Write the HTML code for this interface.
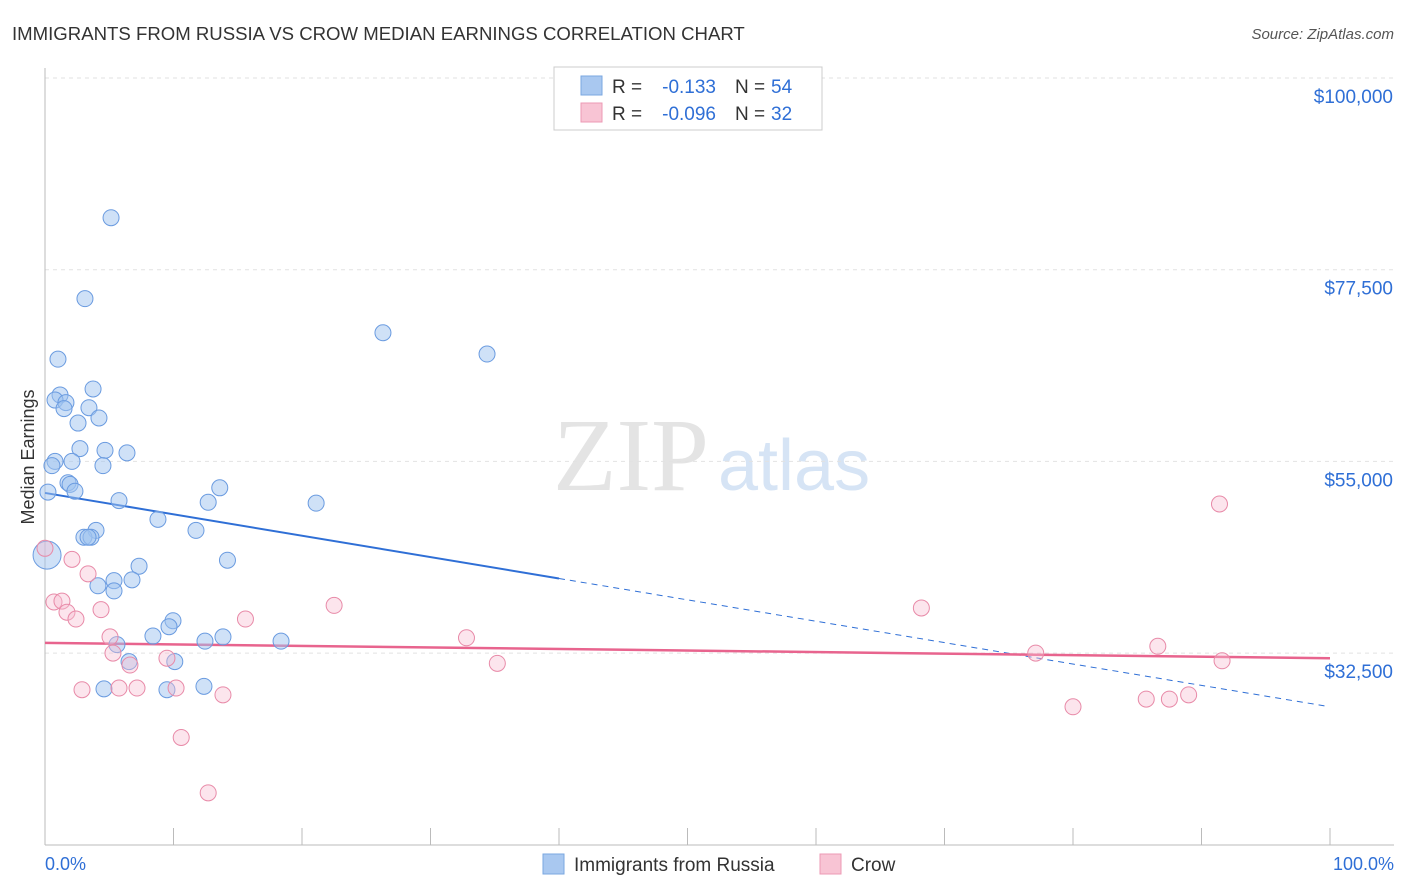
<!DOCTYPE html>
<html><head><meta charset="utf-8"><style>
body{margin:0;background:#fff;font-family:"Liberation Sans",sans-serif;}
svg{display:block}
</style></head><body>
<svg id="chart" width="1406" height="892">
<text x="12" y="40" font-size="18.6" fill="#333">IMMIGRANTS FROM RUSSIA VS CROW MEDIAN EARNINGS CORRELATION CHART</text>
<text x="1394" y="39" font-size="15" fill="#555" font-style="italic" text-anchor="end">Source: ZipAtlas.com</text>
<text x="553" y="490" font-size="104" fill="#e4e4e4" font-family="Liberation Serif,serif">ZIP</text>
<text x="718" y="490" font-size="72" fill="#d6e4f5">atlas</text>
<text transform="translate(34,457) rotate(-90)" font-size="18" fill="#333" text-anchor="middle">Median Earnings</text>
<g id="grid"></g><g id="ticks"></g><g id="trend"></g><g id="pts"></g>
<g>
<rect x="554" y="67" width="268" height="63" fill="#fff" stroke="#ccc"/>
<rect x="581" y="76" width="21" height="19" fill="#a9c8f0" stroke="#7aa7e0"/>
<text x="612" y="93" font-size="19" fill="#333">R =</text>
<text x="716" y="93" font-size="19" fill="#2f6fd6" text-anchor="end">-0.133</text>
<text x="735" y="93" font-size="19" fill="#333">N =</text>
<text x="771" y="93" font-size="19" fill="#2f6fd6">54</text>
<rect x="581" y="103" width="21" height="19" fill="#f8c4d4" stroke="#ec9ab4"/>
<text x="612" y="120" font-size="19" fill="#333">R =</text>
<text x="716" y="120" font-size="19" fill="#2f6fd6" text-anchor="end">-0.096</text>
<text x="735" y="120" font-size="19" fill="#333">N =</text>
<text x="771" y="120" font-size="19" fill="#2f6fd6">32</text>
</g>
<g>
<rect x="543" y="854" width="21" height="20" fill="#a9c8f0" stroke="#7aa7e0"/>
<text x="574" y="871" font-size="19" fill="#333">Immigrants from Russia</text>
<rect x="820" y="854" width="21" height="20" fill="#f8c4d4" stroke="#ec9ab4"/>
<text x="851" y="871" font-size="19" fill="#333">Crow</text>
</g>
<text x="45" y="870" font-size="18" fill="#2f6fd6">0.0%</text>
<text x="1394" y="870" font-size="18" fill="#2f6fd6" text-anchor="end">100.0%</text>
</svg>
<script>
const yTicks=[100000,77500,55000,32500];
const yTickLabels=["$100,000","$77,500","$55,000","$32,500"];
const blueX=[5.14,3.11,1.01,26.3,34.4,3.74,1.17,0.78,1.63,1.48,3.42,4.2,2.57,2.72,4.67,6.38,0.78,2.1,0.54,4.51,1.79,1.95,2.33,0.23,13.6,5.76,12.7,21.1,8.79,3.97,11.75,3.03,3.58,3.35,0.16,14.2,7.32,5.37,6.77,4.12,5.37,8.4,9.96,9.65,13.85,12.45,18.37,5.6,6.54,10.1,4.59,9.49,12.37];
const blueY=[83.6,74.1,67.0,70.1,67.6,63.5,62.8,62.2,61.9,61.2,61.3,60.1,59.5,56.5,56.3,56.0,55.0,55.0,54.5,54.5,52.5,52.3,51.5,51.4,51.9,50.4,50.2,50.1,48.2,46.9,46.9,46.1,46.1,46.1,44.0,43.4,42.7,41.0,41.1,40.4,39.8,34.5,36.3,35.6,34.4,33.9,33.9,33.5,31.5,31.5,28.3,28.2,28.6];
const pinkX=[91.4,0,2.1,3.35,0.7,1.32,22.5,68.2,1.71,2.41,4.36,15.6,5.06,32.8,5.29,86.6,77.1,9.49,6.61,35.2,91.6,10.2,2.88,5.76,7.16,13.85,85.7,87.5,89.0,80.0,10.6,12.7];
const pinkY=[50.0,44.8,43.5,41.8,38.5,38.6,38.1,37.8,37.3,36.5,37.6,36.5,34.4,34.3,32.5,33.3,32.5,31.9,31.1,31.3,31.6,28.4,28.2,28.4,28.4,27.6,27.1,27.1,27.6,26.2,22.6,16.1];
const blueTrend=[51.3,26.2];
const pinkTrend=[33.7,31.9];
const NS="http://www.w3.org/2000/svg";
const xS=p=>45+p*12.85;
const yS=v=>78+(100000-v)*191.7/22500;
function mk(t,a,parent){const e=document.createElementNS(NS,t);for(const k in a)e.setAttribute(k,a[k]);document.getElementById(parent).appendChild(e);return e;}
let ax=mk('line',{x1:45,y1:68,x2:45,y2:845,stroke:'#bbb'},'ticks');


let bx=mk('line',{x1:45,y1:845,x2:1394,y2:845,stroke:'#bbb'},'ticks');


for(let i=0;i<=10;i++){const t=mk('line',{x1:xS(i*10),x2:xS(i*10),y1:828,y2:845,stroke:'#bbb'},'ticks');

}
yTicks.forEach((v,i)=>{const g=mk('line',{x1:45,x2:1394,y1:yS(v),y2:yS(v),stroke:'#e2e2e2','stroke-dasharray':'4,4'},'grid');


const t=mk('text',{x:1393,y:yS(v)+25,'font-size':19,fill:'#2f6fd6','text-anchor':'end'},'ticks');t.textContent=yTickLabels[i];

});
function val(a,b,p){return (a+(b-a)*p/100)*1000;}
let l1=mk('line',{x1:xS(0),y1:yS(val(blueTrend[0],blueTrend[1],0)),x2:xS(40),y2:yS(val(blueTrend[0],blueTrend[1],40)),stroke:'#2f6fd6','stroke-width':2},'trend');


let l2=mk('line',{x1:xS(40),y1:yS(val(blueTrend[0],blueTrend[1],40)),x2:xS(99.6),y2:yS(val(blueTrend[0],blueTrend[1],99.6)),stroke:'#2f6fd6','stroke-width':1,'stroke-dasharray':'6,5'},'trend');


let l3=mk('line',{x1:xS(0),y1:yS(val(pinkTrend[0],pinkTrend[1],0)),x2:xS(100),y2:yS(val(pinkTrend[0],pinkTrend[1],100)),stroke:'#e8648e','stroke-width':2.5},'trend');


blueX.forEach((x,i)=>{const c=mk('circle',{cx:xS(x),cy:yS(blueY[i]*1000),r:(i==34?14:8),fill:'rgba(160,195,240,0.5)',stroke:'#6a9be0','stroke-width':1},'pts');

});
pinkX.forEach((x,i)=>{const c=mk('circle',{cx:xS(x),cy:yS(pinkY[i]*1000),r:8,fill:'rgba(248,190,210,0.4)',stroke:'#e88aa8','stroke-width':1},'pts');

});
</script>
</body></html>
